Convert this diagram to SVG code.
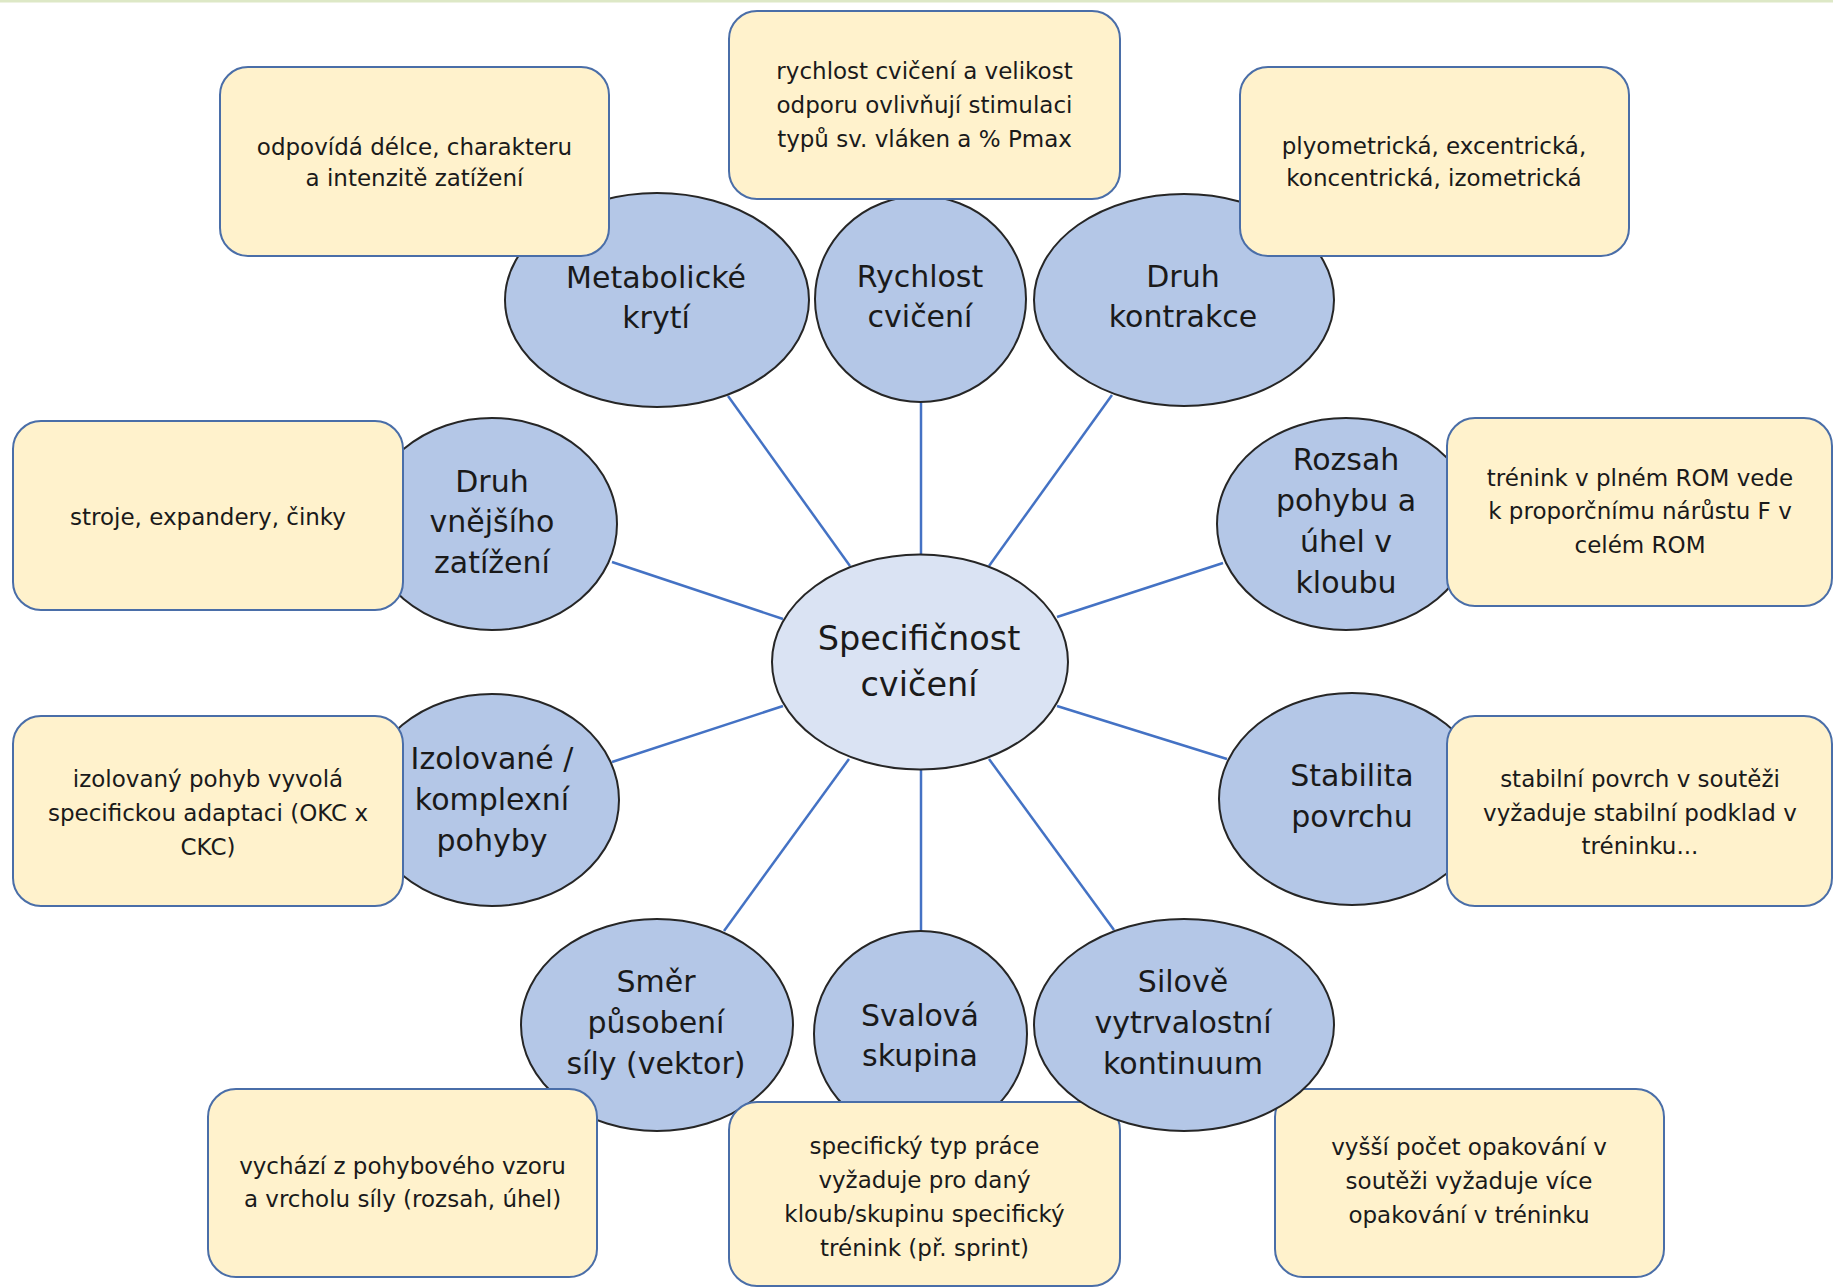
<svg xmlns="http://www.w3.org/2000/svg" width="1833" height="1287" viewBox="0 0 1833 1287">
<style>
.bg{fill:#ffffff}
.conn line{stroke:#4472c4;stroke-width:2.5;fill:none}
.el{fill:#b4c7e7;stroke:#262626;stroke-width:2}
.ctr{fill:#dae3f3;stroke:#262626;stroke-width:2}
.box{fill:#fff2cc;stroke:#4a6ea8;stroke-width:2}
text{font-family:"DejaVu Sans","Liberation Sans",sans-serif;fill:#1a1a1a;text-anchor:middle}
.t1{font-size:30px}
.t0{font-size:33.5px}
.t2{font-size:23px}
</style>
<rect class="bg" x="0" y="0" width="1833" height="1287"/>
<rect x="0" y="0" width="1833" height="2.5" fill="#dde8c6"/>
<g id="connectors" class="conn">
<line x1="850" y1="566" x2="728" y2="396"/>
<line x1="921" y1="554" x2="921" y2="403"/>
<line x1="989" y1="566" x2="1112" y2="395"/>
<line x1="783" y1="619" x2="612" y2="562"/>
<line x1="1057" y1="617" x2="1223" y2="563"/>
<line x1="783" y1="706" x2="612" y2="762"/>
<line x1="1057" y1="706" x2="1227" y2="759"/>
<line x1="849" y1="759" x2="724" y2="931"/>
<line x1="921" y1="769" x2="921" y2="931"/>
<line x1="989" y1="759" x2="1114" y2="930"/>
</g>
<g id="center">
<ellipse class="ctr" cx="920" cy="662" rx="148" ry="107.5"/>
<text class="t0" x="919" y="650">Specifičnost</text>
<text class="t0" x="919" y="696">cvičení</text>
</g>
<g id="n-metabolicke">
<ellipse class="el" cx="657" cy="300" rx="152" ry="107"/>
<text class="t1" x="656" y="288">Metabolické</text>
<text class="t1" x="656" y="328">krytí</text>
</g>
<g id="n-rychlost">
<ellipse class="el" cx="920.5" cy="299" rx="105.5" ry="103"/>
<text class="t1" x="920" y="287">Rychlost</text>
<text class="t1" x="920" y="327">cvičení</text>
</g>
<g id="n-kontrakce">
<ellipse class="el" cx="1184" cy="300" rx="150" ry="106"/>
<text class="t1" x="1183" y="287">Druh</text>
<text class="t1" x="1183" y="327">kontrakce</text>
</g>
<g id="n-zatizeni">
<ellipse class="el" cx="492" cy="524" rx="125" ry="106"/>
<text class="t1" x="492" y="492">Druh</text>
<text class="t1" x="492" y="532">vnějšího</text>
<text class="t1" x="492" y="573">zatížení</text>
</g>
<g id="n-rozsah">
<ellipse class="el" cx="1346" cy="524" rx="129" ry="106"/>
<text class="t1" x="1346" y="470">Rozsah</text>
<text class="t1" x="1346" y="511">pohybu a</text>
<text class="t1" x="1346" y="552">úhel v</text>
<text class="t1" x="1346" y="593">kloubu</text>
</g>
<g id="n-izolovane">
<ellipse class="el" cx="492" cy="800" rx="127" ry="106"/>
<text class="t1" x="492" y="769">Izolované /</text>
<text class="t1" x="492" y="810">komplexní</text>
<text class="t1" x="492" y="851">pohyby</text>
</g>
<g id="n-stabilita">
<ellipse class="el" cx="1352" cy="799" rx="133" ry="106"/>
<text class="t1" x="1352" y="786">Stabilita</text>
<text class="t1" x="1352" y="827">povrchu</text>
</g>
<g id="n-smer">
<ellipse class="el" cx="657" cy="1025" rx="136" ry="106"/>
<text class="t1" x="656" y="992">Směr</text>
<text class="t1" x="656" y="1033">působení</text>
<text class="t1" x="656" y="1074">síly (vektor)</text>
</g>
<g id="n-svalova">
<ellipse class="el" cx="920.5" cy="1034" rx="106.5" ry="103"/>
<text class="t1" x="920" y="1026">Svalová</text>
<text class="t1" x="920" y="1066">skupina</text>
</g>
<g id="b-odpovida">
<rect class="box" x="220" y="67" width="389" height="189" rx="28"/>
<text class="t2" x="414.5" y="155">odpovídá délce, charakteru</text>
<text class="t2" x="414.5" y="186">a intenzitě zatížení</text>
</g>
<g id="b-rychlost">
<rect class="box" x="729" y="11" width="391" height="188" rx="28"/>
<text class="t2" x="924.5" y="79">rychlost cvičení a velikost</text>
<text class="t2" x="924.5" y="113">odporu ovlivňují stimulaci</text>
<text class="t2" x="924.5" y="147">typů sv. vláken a % Pmax</text>
</g>
<g id="b-kontrakce">
<rect class="box" x="1240" y="67" width="389" height="189" rx="28"/>
<text class="t2" x="1434" y="154">plyometrická, excentrická,</text>
<text class="t2" x="1434" y="186">koncentrická, izometrická</text>
</g>
<g id="b-zatizeni">
<rect class="box" x="13" y="421" width="390" height="189" rx="28"/>
<text class="t2" x="208" y="525">stroje, expandery, činky</text>
</g>
<g id="b-rozsah">
<rect class="box" x="1447" y="418" width="385" height="188" rx="28"/>
<text class="t2" x="1640" y="486">trénink v plném ROM vede</text>
<text class="t2" x="1640" y="519">k proporčnímu nárůstu F v</text>
<text class="t2" x="1640" y="553">celém ROM</text>
</g>
<g id="b-izolovane">
<rect class="box" x="13" y="716" width="390" height="190" rx="28"/>
<text class="t2" x="208" y="787">izolovaný pohyb vyvolá</text>
<text class="t2" x="208" y="821">specifickou adaptaci (OKC x</text>
<text class="t2" x="208" y="855">CKC)</text>
</g>
<g id="b-stabilita">
<rect class="box" x="1447" y="716" width="385" height="190" rx="28"/>
<text class="t2" x="1640" y="787">stabilní povrch v soutěži</text>
<text class="t2" x="1640" y="821">vyžaduje stabilní podklad v</text>
<text class="t2" x="1640" y="854">tréninku...</text>
</g>
<g id="b-smer">
<rect class="box" x="208" y="1089" width="389" height="188" rx="28"/>
<text class="t2" x="402.5" y="1174">vychází z pohybového vzoru</text>
<text class="t2" x="402.5" y="1207">a vrcholu síly (rozsah, úhel)</text>
</g>
<g id="b-svalova">
<rect class="box" x="729" y="1102" width="391" height="184" rx="28"/>
<text class="t2" x="924.5" y="1154">specifický typ práce</text>
<text class="t2" x="924.5" y="1188">vyžaduje pro daný</text>
<text class="t2" x="924.5" y="1222">kloub/skupinu specifický</text>
<text class="t2" x="924.5" y="1256">trénink (př. sprint)</text>
</g>
<g id="b-silove">
<rect class="box" x="1275" y="1089" width="389" height="188" rx="28"/>
<text class="t2" x="1469" y="1155">vyšší počet opakování v</text>
<text class="t2" x="1469" y="1189">soutěži vyžaduje více</text>
<text class="t2" x="1469" y="1223">opakování v tréninku</text>
</g>
<g id="n-silove">
<ellipse class="el" cx="1184" cy="1025" rx="150" ry="106"/>
<text class="t1" x="1183" y="992">Silově</text>
<text class="t1" x="1183" y="1033">vytrvalostní</text>
<text class="t1" x="1183" y="1074">kontinuum</text>
</g>
</svg>
